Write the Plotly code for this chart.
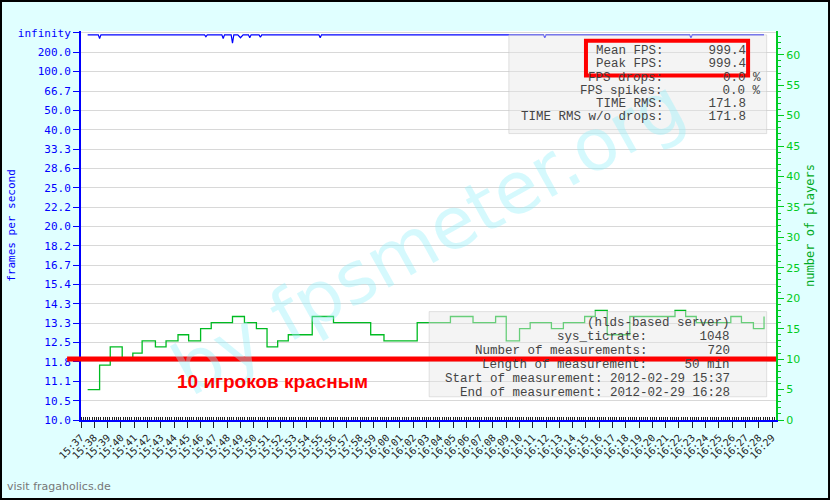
import plotly.graph_objects as go

# left axis labels (fps), equally spaced in frame time
fps_labels = ['10.0', '10.5', '11.1', '11.8', '12.5', '13.3', '14.3', '15.4', '16.7', '18.2', '20.0',
              '22.2', '25.0', '28.6', '33.3', '40.0', '50.0', '66.7', '100.0', '200.0', 'infinity']
time_labels = ['15:%02d' % m for m in range(37, 60)] + ['16:%02d' % m for m in range(0, 30)]

# players over time (minutes after 15:37)
player_min = [0.5, 1.4, 2.2, 3.1, 3.9, 4.6, 5.6, 6.4, 7.3, 8.1, 9.0, 9.8, 11.4, 12.3, 13.2, 14.0,
              14.8, 15.6, 17.4, 19.0, 21.8, 22.8, 25.3, 27.8, 29.5, 31.2, 32.0, 33.0, 33.8, 35.4,
              36.3, 37.9, 38.7, 39.6, 41.3, 44.7, 45.5, 46.3, 48.9, 49.7, 50.6, 51.4]
players = [5, 9, 12, 10, 11, 13, 12, 13, 14, 13, 15, 16, 17, 16, 15, 12,
           13, 14, 17, 16, 14, 13, 16, 17, 16, 17, 13, 15, 16, 15,
           16, 17, 18, 14, 17, 18, 17, 16, 17, 16, 15, 17]

# fps over time
fps_min = [0.5, 1.3, 1.4, 1.5, 9.3, 9.4, 9.5, 10.6, 10.7, 10.8, 11.3, 11.4, 11.5, 11.8, 12.0, 12.2,
           12.6, 12.7, 12.8, 13.4, 13.5, 13.6, 17.9, 18.0, 18.1, 34.8, 34.9, 35.0, 45.8, 45.9, 46.0, 51.4]
fps = [2000, 2000, 700, 2000, 2000, 1000, 2000, 2000, 700, 2000, 2000, 380, 2000, 2000, 800, 2000,
       2000, 800, 2000, 2000, 900, 2000, 2000, 800, 2000, 2000, 800, 2000, 2000, 800, 2000, 2000]
fps_pos = [20 - (1000.0 / f) / 5 for f in fps]

mono = 'DejaVu Sans Mono, Liberation Mono, monospace'

fig = go.Figure()
fig.add_trace(go.Scatter(x=fps_min, y=fps_pos, mode='lines', line=dict(color='#0000ff', width=1.2),
                         showlegend=False))
fig.add_trace(go.Scatter(x=player_min, y=players, yaxis='y2', mode='lines', line_shape='hv',
                         line=dict(color='#00bb22', width=1.3), showlegend=False))

fig.update_layout(
    width=830, height=500,
    paper_bgcolor='#e0ffff', plot_bgcolor='white',
    margin=dict(l=81, r=54, t=31, b=80),
    font=dict(family=mono, size=11),
    xaxis=dict(range=[0, 52.3], tickmode='array', tickvals=list(range(53)), ticktext=time_labels,
               tickangle=-45, tickfont=dict(size=10, color='#222'), showgrid=False, zeroline=False,
               automargin=False,
               ticks='outside', ticklen=6, tickcolor='#222', showline=True, linecolor='#0000ff', linewidth=2,
               minor=dict(dtick=1 / 6, ticks='inside', ticklen=3, tickcolor='#222', showgrid=False)),
    yaxis=dict(range=[0, 20.1], tickmode='array', tickvals=list(range(21)), ticktext=fps_labels,
               tickfont=dict(color='#0000ff'), showline=True, linecolor='#0000ff', linewidth=2,
               automargin=False,
               ticks='outside', tickcolor='#0000ff', ticklen=6, gridcolor='#d8d8d8', zeroline=False,
               title=dict(text='frames per second', font=dict(color='#0000ff', size=11), standoff=0)),
    yaxis2=dict(range=[0, 63.9], overlaying='y', side='right', dtick=5, automargin=False,
                tickfont=dict(color='#00cc22', family='DejaVu Sans', size=11), showline=True,
                linecolor='#00cc22', linewidth=2, ticks='outside', tickcolor='#00cc22', ticklen=6,
                showgrid=False, zeroline=False,
                minor=dict(dtick=1, ticks='outside', ticklen=3, tickcolor='#00cc22'),
                title=dict(text='number of players', font=dict(color='#00aa22', size=12), standoff=6)),
)

shapes = [
    dict(type='rect', xref='paper', yref='paper', x0=-0.1151, x1=1.0763, y0=-0.2031, y1=1.077,
         line=dict(color='black', width=2), fillcolor='rgba(0,0,0,0)'),
    dict(type='rect', xref='x', yref='y', x0=32.2, x1=51.6, y0=14.8, y1=19.9, fillcolor='rgba(230,230,230,0.45)',
         line=dict(color='rgba(200,200,200,0.5)', width=1)),
    dict(type='rect', xref='x', yref='y', x0=26.2, x1=51.6, y0=1.2, y1=5.6, fillcolor='rgba(230,230,230,0.45)',
         line=dict(color='rgba(200,200,200,0.5)', width=1)),
    dict(type='line', xref='paper', yref='y2', x0=-0.02, x1=1.0, y0=10, y1=10, line=dict(color='#ff0000', width=5)),
    dict(type='rect', xref='x', yref='y', x0=38.0, x1=50.2, y0=17.8, y1=19.6, fillcolor='rgba(0,0,0,0)',
         line=dict(color='#ff0000', width=4)),
]
fig.update_layout(shapes=shapes)

ann = [
    dict(text='by fpsmeter.org', x=0.5, y=0.47, xref='paper', yref='paper', showarrow=False, textangle=-29,
         font=dict(family='DejaVu Sans', size=72, color='rgba(150,240,250,0.4)')),
    dict(text='10 игроков красным', x=7.1, y=2.0, xref='x', yref='y', showarrow=False, xanchor='left',
         font=dict(family='Liberation Sans, Arial', size=19, color='#ff0000', weight='bold')),
    dict(text='visit fragaholics.de', x=-0.109, y=-0.193, xref='paper', yref='paper', showarrow=False,
         xanchor='left', font=dict(family='DejaVu Sans', size=11, color='#777')),
]
stats1 = ['Mean FPS:      999.4  ', 'Peak FPS:      999.4  ', 'FPS drops:        0.0 %',
          'FPS spikes:        0.0 %', 'TIME RMS:      171.8  ', 'TIME RMS w/o drops:      171.8  ']
stats2 = ['(hlds-based server)', 'sys_ticrate:       1048', 'Number of measurements:        720',
          'Length of measurement:     50 min', 'Start of measurement: 2012-02-29 15:37',
          'End of measurement: 2012-02-29 16:28']
stat_font = dict(family='Liberation Mono, Courier New, monospace', size=12.5, color='#444')
for i, s in enumerate(stats1):
    ann.append(dict(text=s.replace(' ', '&nbsp;'), x=51.3, y=19.05 - i * 0.68, xref='x', yref='y',
                    showarrow=False, xanchor='right', font=stat_font))
for i, s in enumerate(stats2):
    ann.append(dict(text=s.replace(' ', '&nbsp;'), x=49.0, y=5.0 - i * 0.72, xref='x', yref='y',
                    showarrow=False, xanchor='right', font=stat_font))
fig.update_layout(annotations=ann)

fig.write_html('out.html', config={'displayModeBar': False},
               post_script="document.body.style.margin='0';")
